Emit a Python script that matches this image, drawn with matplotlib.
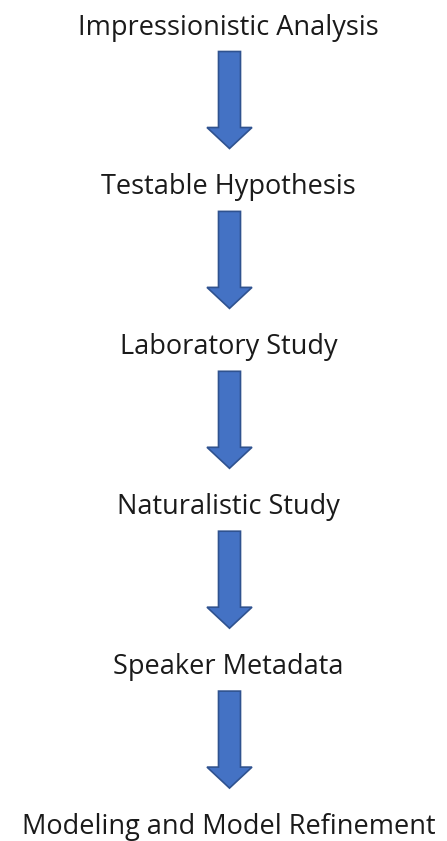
import matplotlib
matplotlib.use("Agg")
import matplotlib.pyplot as plt
from matplotlib.patches import Polygon

steps = [
    "Impressionistic Analysis",
    "Testable Hypothesis",
    "Laboratory Study",
    "Naturalistic Study",
    "Speaker Metadata",
    "Modeling and Model Refinement",
]

W, H = 447, 841
fig = plt.figure(figsize=(W / 100, H / 100), dpi=100)
ax = fig.add_axes([0, 0, 1, 1])
ax.set_xlim(0, W)
ax.set_ylim(H, 0)
ax.axis("off")

tx, ax_x = 228.5, 229.5
base0, step = 34.5, 159.9

for i, label in enumerate(steps):
    y = base0 + i * step
    ax.text(tx, y, label, ha="center", va="baseline", fontsize=19.5,
            family="Open Sans", color="#1a1a1a")
    if i < len(steps) - 1:
        top = y + 17
        neck = top + 76
        tip = top + 97
        pts = [(ax_x - 11, top), (ax_x + 11, top), (ax_x + 11, neck),
               (ax_x + 22.5, neck), (ax_x, tip), (ax_x - 22.5, neck),
               (ax_x - 11, neck)]
        ax.add_patch(Polygon(pts, closed=True, facecolor="#4472C4",
                             edgecolor="#2F528F", linewidth=1.2))

fig.savefig("out.png", dpi=100)
